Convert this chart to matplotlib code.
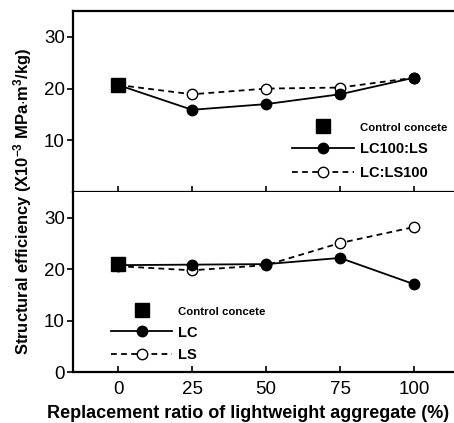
import matplotlib
matplotlib.use("Agg")
import matplotlib.pyplot as plt
from matplotlib.lines import Line2D

# replacement ratio (%)
ratio = [0, 25, 50, 75, 100]

# structural efficiency, x10^-3 MPa m3/kg
control = [20.7]
lc100_ls = [20.7, 15.9, 17.0, 18.9, 22.1]
lc_ls100 = [20.7, 18.9, 20.0, 20.2, 22.1]

control_b = [21.0]
lc = [20.8, 20.9, 21.0, 22.2, 17.1]
ls = [20.6, 19.8, 20.8, 25.1, 28.2]

plt.rcParams['font.family'] = ['Liberation Sans', 'DejaVu Sans']
plt.rcParams['mathtext.fontset'] = 'custom'
plt.rcParams['mathtext.bf'] = 'Liberation Sans:bold'
plt.rcParams['mathtext.rm'] = 'Liberation Sans:bold'
plt.rcParams['mathtext.default'] = 'bf'

fig = plt.figure(figsize=(4.54, 4.23), dpi=100)
ax1 = fig.add_axes([0.161, 0.546, 0.839, 0.428])
ax2 = fig.add_axes([0.161, 0.120, 0.839, 0.426])

dash = (3.2, 2.4)
ms = 7.5


def panel(ax, xs, solid, dashed, ctrl):
    # dashed series underneath so the filled markers sit on top
    ax.plot(xs, dashed, color='black', lw=1.3, ls=(0, dash), marker='o',
            ms=ms, mfc='white', mec='black', mew=1.0)
    ax.plot(xs, solid, color='black', lw=1.3, marker='o', ms=ms,
            mfc='black', mec='black')
    ax.plot([xs[0]], ctrl, color='black', marker='s', ms=10.5, ls='none',
            zorder=5)
    ax.set_xlim(-15.2, 113.5)
    ax.set_ylim(0, 35)
    ax.spines['right'].set_visible(False)
    for s in ['left', 'bottom', 'top']:
        ax.spines[s].set_linewidth(1.6)
    ax.set_xticks(ratio)
    ax.tick_params(axis='x', direction='in', length=4, width=1.2)
    ax.tick_params(axis='y', direction='out', length=4, width=1.2,
                   labelsize=13.5, pad=2)


panel(ax1, ratio, lc100_ls, lc_ls100, control)
panel(ax2, ratio, lc, ls, control_b)

ax1.set_yticks([10, 20, 30])
ax1.tick_params(axis='x', labelbottom=False)
ax2.set_yticks([0, 10, 20, 30])
ax2.spines['top'].set_visible(False)
ax2.tick_params(axis='x', labelsize=13.5, pad=6)


def legend(ax, names, anchor, spacing):
    handles = [
        Line2D([], [], color='black', marker='s', ms=10.5, ls='none'),
        Line2D([], [], color='black', lw=1.3, marker='o', ms=ms),
        Line2D([], [], color='black', lw=1.3, ls=(0, dash), marker='o',
               ms=ms, mfc='white', mew=1.0),
    ]
    leg = ax.legend(handles, names, loc='upper left', bbox_to_anchor=anchor,
                    frameon=False, handlelength=4.2, handletextpad=0.4,
                    labelspacing=spacing, borderpad=0, borderaxespad=0,
                    prop={'weight': 'bold', 'size': 10.5})
    leg.get_texts()[0].set_fontsize(8.2)
    return leg


legend(ax1, ['Control concete', 'LC100:LS', 'LC:LS100'], (0.576, 0.395), 0.66)
legend(ax2, ['Control concete', 'LC', 'LS'], (0.10, 0.372), 0.56)

fig.text(0.049, 0.525, r'Structural efficiency (X10$^{-3}$ MPa$\cdot$m$^{3}$/kg)',
         rotation=90, ha='center', va='center', fontsize=11.9, fontweight='bold')
fig.text(0.546, 0.022, 'Replacement ratio of lightweight aggregate (%)',
         ha='center', va='center', fontsize=13, fontweight='bold')

fig.savefig('out.png', dpi=100)
